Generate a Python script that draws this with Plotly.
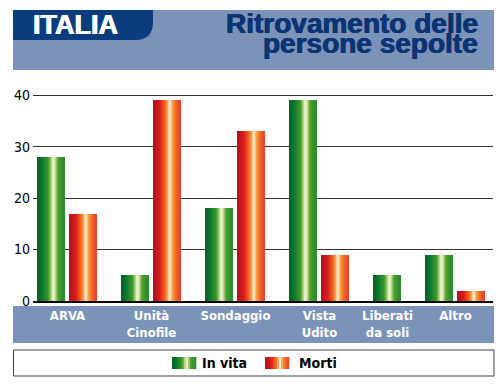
import plotly.graph_objects as go

# ---------------- data ----------------
categories = ["ARVA", "Unità<br>Cinofile", "Sondaggio", "Vista<br>Udito", "Liberati<br>da soli", "Altro"]
in_vita = [28, 5, 18, 39, 5, 9]
morti = [17, 39, 33, 9, None, 2]
y_ticks = [0, 10, 20, 30, 40]
series_names = ["In vita", "Morti"]

# ---------------- layout constants (pixels) ----------------
W, H = 503, 388
PL, PR, PT, PB = 33, 493, 90, 301          # plot area in pixels
BAR_W, IN_GAP, GROUP_GAP, START = 27, 5, 25, 5
N_STRIPES = 27

green_stops = [(0.0, (0, 94, 42)), (0.2, (15, 122, 46)), (0.42, (61, 154, 44)),
               (0.52, (168, 204, 106)), (0.6, (244, 248, 224)), (0.68, (200, 220, 144)),
               (0.78, (78, 158, 46)), (1.0, (42, 138, 48))]
red_stops = [(0.0, (176, 16, 32)), (0.25, (220, 28, 28)), (0.45, (240, 106, 32)),
             (0.55, (248, 168, 96)), (0.62, (255, 244, 224)), (0.72, (248, 160, 64)),
             (0.85, (240, 104, 40)), (1.0, (232, 64, 42))]


def grad(stops, t):
    for (t0, c0), (t1, c1) in zip(stops[:-1], stops[1:]):
        if t0 <= t <= t1:
            f = (t - t0) / (t1 - t0) if t1 > t0 else 0
            c = [round(a + (b - a) * f) for a, b in zip(c0, c1)]
            return "rgb(%d,%d,%d)" % tuple(c)
    return "rgb(%d,%d,%d)" % stops[-1][1]


def px_x(p):
    return (p - PL) / (PR - PL)


def px_y(p):
    return (PB - p) / (PB - PT)


yscale_top = 41
# packed group layout: groups only reserve room for the bars they have
series = [in_vita, morti]
centers = [[None] * len(categories) for _ in series]
group_centers = []
cursor = START
for i in range(len(categories)):
    cs = []
    for s, vals in enumerate(series):
        if vals[i] is None:
            continue
        c = cursor + BAR_W / 2
        centers[s][i] = c
        cs.append(c)
        cursor += BAR_W + IN_GAP
    group_centers.append(sum(cs) / len(cs))
    cursor += GROUP_GAP - IN_GAP

fig = go.Figure()
stops_list = [green_stops, red_stops]
sw = BAR_W / N_STRIPES
for s, vals in enumerate(series):
    xs = [centers[s][i] for i in range(len(categories)) if vals[i] is not None]
    ys = [vals[i] for i in range(len(categories)) if vals[i] is not None]
    for k in range(N_STRIPES):
        off = -BAR_W / 2 + (k + 0.5) * sw
        fig.add_trace(go.Bar(
            x=[x + off for x in xs], y=ys, width=sw * 1.25,
            marker=dict(color=grad(stops_list[s], (k + 0.5) / N_STRIPES), line=dict(width=0)),
            showlegend=False, hoverinfo="skip", name=series_names[s]))

shapes = []
# header band
shapes.append(dict(type="rect", xref="paper", yref="paper", x0=px_x(13), x1=px_x(494),
                   y0=px_y(70), y1=px_y(10), fillcolor="#7b93b9", line=dict(width=0), layer="below"))
# dark tab with rounded bottom-right corner
tab_pts = "M {a},{b} L {c},{b} L {c},{d} Q {c},{e} {f},{e} L {a},{e} Z".format(
    a=px_x(13), b=px_y(10), c=px_x(153), d=px_y(22), e=px_y(40), f=px_x(135))
shapes.append(dict(type="path", xref="paper", yref="paper", path=tab_pts,
                   fillcolor="#0b3d7e", line=dict(width=0), layer="below"))
# category band
shapes.append(dict(type="rect", xref="paper", yref="paper", x0=px_x(13), x1=px_x(494),
                   y0=px_y(343), y1=px_y(306), fillcolor="#7b93b9", line=dict(width=0), layer="below"))
# legend box
shapes.append(dict(type="rect", xref="paper", yref="paper", x0=px_x(13.5), x1=px_x(494),
                   y0=px_y(376), y1=px_y(350), fillcolor="white", line=dict(width=1, color="#444444"),
                   layer="below"))
# legend swatches (gradient stripes)
sw_x = [172, 265]
SW_W, SW_N = 24, 12
for s in range(2):
    for k in range(SW_N):
        x0 = sw_x[s] + k * SW_W / SW_N
        shapes.append(dict(type="rect", xref="paper", yref="paper",
                           x0=px_x(x0), x1=px_x(x0 + SW_W / SW_N + 0.3),
                           y0=px_y(369), y1=px_y(357),
                           fillcolor=grad(stops_list[s], (k + 0.5) / SW_N), line=dict(width=0)))

narrow = "DejaVu Sans Condensed, Liberation Sans Narrow, Arial Narrow, sans-serif"
bold = "Liberation Sans, Arial, Helvetica, sans-serif"
title_col = "#0c3472"
heavy = "0.5px 0 0 %s, -0.5px 0 0 %s" % (title_col, title_col)
annotations = [
    dict(text="ITALIA", x=px_x(31), y=px_y(25), xref="paper", yref="paper", xanchor="left",
         yanchor="middle", showarrow=False,
         font=dict(family=bold, size=27, color="white", weight="bold",
                   shadow="0.5px 0 0 white, -0.5px 0 0 white")),
    dict(text="Ritrovamento delle", x=px_x(480), y=px_y(23.5), xref="paper", yref="paper",
         xanchor="right", yanchor="middle", showarrow=False,
         font=dict(family=bold, size=28, color=title_col, weight="bold", shadow=heavy)),
    dict(text="persone sepolte", x=px_x(480), y=px_y(44), xref="paper", yref="paper",
         xanchor="right", yanchor="middle", showarrow=False,
         font=dict(family=bold, size=28, color=title_col, weight="bold", shadow=heavy)),
]
lx = [200, 297]
for s in range(2):
    annotations.append(dict(text=series_names[s], x=px_x(lx[s]), y=px_y(363), xref="paper", yref="paper",
                            xanchor="left", yanchor="middle", showarrow=False,
                            font=dict(family=narrow, size=14, color="black", weight="bold")))

fig.update_layout(
    width=W, height=H, barmode="overlay", bargap=0,
    margin=dict(l=PL, r=W - PR, t=PT, b=H - PB, pad=0),
    paper_bgcolor="white", plot_bgcolor="white",
    shapes=shapes, annotations=annotations, showlegend=False,
    xaxis=dict(range=[0, PR - PL], tickvals=group_centers, ticktext=categories,
               tickfont=dict(family=narrow, size=13, color="white", weight="bold"),
               showgrid=False, zeroline=False, showline=True, linecolor="black", linewidth=1.5,
               ticks="", ticklabelstandoff=2, fixedrange=True),
    yaxis=dict(range=[0, yscale_top], tickvals=y_ticks, ticktext=[str(v) for v in y_ticks],
               tickfont=dict(family=narrow, size=14, color="black"),
               showgrid=True, gridcolor="#333333", gridwidth=1, zeroline=False,
               showline=False, ticks="", ticklabelstandoff=2, fixedrange=True),
)

fig.write_html("out.html", config={"displayModeBar": False},
               post_script="document.body.style.margin='0';document.body.style.overflow='hidden';")
